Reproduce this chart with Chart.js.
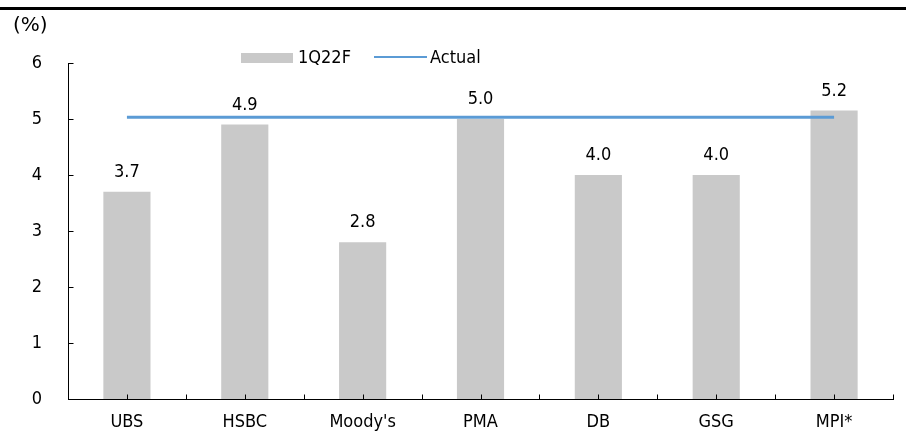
<!DOCTYPE html>
<html>
<head>
<meta charset="utf-8">
<script src="https://cdn.jsdelivr.net/npm/chart.js@4"></script>
<style>
  html, body { margin: 0; padding: 0; background: #fff; }
  #wrap { position: relative; width: 906px; height: 434px; font-family: "DejaVu Sans Condensed", "DejaVu Sans", sans-serif; }
  #topline { position: absolute; left: 0; top: 7px; width: 906px; height: 3px; background: #000; }
  #unit { position: absolute; left: 13px; top: 12px; font-size: 20px; color: #000; font-family: "DejaVu Sans", sans-serif; }
  .leg { position: absolute; top: 46px; font-size: 18px; color: #000; line-height: 22px; }
  .box { position: absolute; left: 241px; top: 53px; width: 52px; height: 10px; background: #c9c9c9; }
  .lin { position: absolute; left: 374px; top: 56px; width: 53px; height: 2px; background: #5b9bd5; }
</style>
</head>
<body>
<div id="wrap">
  <canvas id="chart" width="906" height="434"></canvas>
  <div id="topline"></div>
  <div id="unit">(%)</div>
  <div class="box"></div><div class="leg" style="left:298px">1Q22F</div>
  <div class="lin"></div><div class="leg" style="left:430px">Actual</div>
</div>
<script>
const categories = ['UBS', 'HSBC', "Moody's", 'PMA', 'DB', 'GSG', 'MPI*'];
const forecast = [3.7, 4.9, 2.8, 5.0, 4.0, 4.0, 5.15];
const valueLabels = ['3.7', '4.9', '2.8', '5.0', '4.0', '4.0', '5.2'];
const actual = [5.03, 5.03, 5.03, 5.03, 5.03, 5.03, 5.03];
const yTicks = [0, 1, 2, 3, 4, 5, 6];

const FONT = '"DejaVu Sans Condensed", "DejaVu Sans", sans-serif';
Chart.defaults.font.family = FONT;
Chart.defaults.font.size = 18;
Chart.defaults.color = '#000';

// small inward tick marks like the original, plus value labels over the bars
const extras = {
    id: 'extras',
    afterDraw(chart) {
        const c = chart.ctx;
        const x = chart.scales.x;
        const y = chart.scales.y;
        c.save();
        c.strokeStyle = '#000';
        c.lineWidth = 1;
        c.beginPath();
        const bottom = Math.round(y.getPixelForValue(0)) + 0.5;
        for (let i = 0; i < categories.length; i++) {
            const cx = Math.round(x.getPixelForValue(i)) + 0.5;
            c.moveTo(cx, bottom);
            c.lineTo(cx, bottom - 5);
            const bx = Math.round(x.getPixelForValue(i + 0.5)) + 0.5;
            c.moveTo(bx, bottom);
            c.lineTo(bx, bottom - 5);
        }
        const left = Math.round(x.left) + 0.5;
        yTicks.forEach(v => {
            const ty = Math.round(y.getPixelForValue(v)) + 0.5;
            c.moveTo(left, ty);
            c.lineTo(left + 5, ty);
        });
        c.stroke();

        const meta = chart.getDatasetMeta(0);
        c.fillStyle = '#000';
        c.font = '18px ' + FONT;
        c.textAlign = 'center';
        c.textBaseline = 'alphabetic';
        meta.data.forEach((bar, i) => {
            c.fillText(valueLabels[i], bar.x, bar.y - 15);
        });
        c.restore();
    }
};

new Chart(document.getElementById('chart'), {
    type: 'bar',
    data: {
        labels: categories,
        datasets: [{
            label: '1Q22F',
            data: forecast,
            backgroundColor: '#c9c9c9',
            barPercentage: 0.4,
            categoryPercentage: 1,
            order: 2
        }, {
            type: 'line',
            label: 'Actual',
            data: actual,
            borderColor: '#5b9bd5',
            borderWidth: 3,
            pointRadius: 0,
            fill: false,
            order: 1
        }]
    },
    options: {
        responsive: false,
        animation: false,
        layout: { padding: { top: 63, right: 13, left: 0, bottom: 0 } },
        plugins: { legend: { display: false }, tooltip: { enabled: false } },
        scales: {
            x: {
                offset: true,
                grid: { display: false },
                border: { display: true, color: '#000', width: 1 },
                ticks: { padding: 5 },
                afterFit(s) { s.height = 35; }
            },
            y: {
                min: 0,
                max: 6,
                ticks: { stepSize: 1, padding: 18 },
                grid: { display: false },
                border: { display: true, color: '#000', width: 1 },
                afterFit(s) { s.width = 68; }
            }
        }
    },
    plugins: [extras]
});
</script>
</body>
</html>
